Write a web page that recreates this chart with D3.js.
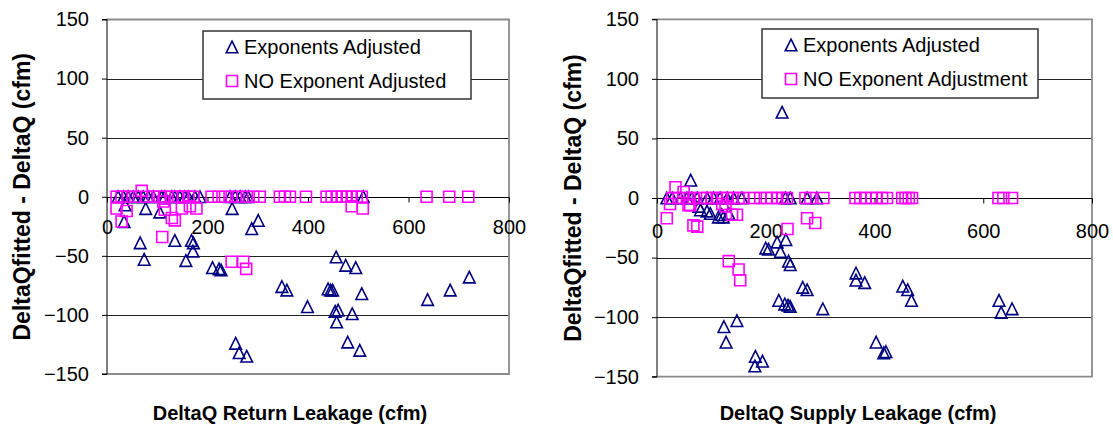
<!DOCTYPE html>
<html lang="en">
<head>
  <meta charset="UTF-8">
  <title>DeltaQ fitted residuals</title>
  <style>
    body {
      margin: 0;
      background: #fff;
    }
    svg text {
      font-family: "Liberation Sans", Arial, sans-serif;
    }
  </style>
</head>
<body>
  <div class="charts"></div>
  <script src="https://cdnjs.cloudflare.com/ajax/libs/d3/7.8.5/d3.min.js"></script>
  <script>
    // tick labels shared by both panels
    const xTicks = [0, 200, 400, 600, 800];
    const yTicks = [150, 100, 50, 0, -50, -100, -150];
    const yGrid = [100, 50, -50, -100];

    // return leakage panel, [DeltaQ leakage, fitted - measured]
    const returnAdjusted = [
      [22, 0], [33, 0], [42, 0], [52, 0], [62, 0], [72, 0], [82, 0], [92, 0], [109, 0], [115, 0],
      [129, 0], [135, 0], [145, 0], [155, 0], [162, 0], [175, 0], [185, 0], [245, 0], [255, 0],
      [265, 0], [275, 0], [281, 0], [510, 0],
      [36, -7], [34, -21], [77, -10], [105, -13], [66, -39], [74, -53], [135, -37], [157, -54],
      [168, -37], [172, -39], [171, -46], [210, -60], [223, -61], [227, -62], [249, -10],
      [288, -27], [301, -20], [256, -124], [263, -132], [278, -135], [348, -76], [358, -79],
      [399, -93], [440, -78], [445, -79], [449, -79], [456, -51], [475, -58], [495, -60],
      [507, -82], [454, -97], [460, -96], [457, -106], [488, -99], [479, -123], [503, -130],
      [638, -87], [683, -79], [721, -68]
    ];
    const returnNotAdjusted = [
      [19, 0], [29, 0], [42, 0], [56, 0], [69, 5], [79, 0], [92, 0], [105, 0], [115, 0], [129, 0],
      [142, 0], [152, 0], [162, 0], [172, 0], [208, 0], [222, 0], [235, 0], [248, 0], [261, 0],
      [278, 0], [291, 0], [304, 0], [344, 0], [354, 0], [364, 0], [396, 0], [437, 0], [447, 0],
      [457, 0], [467, 0], [477, 0], [487, 0], [497, 0], [507, 0], [636, 0], [681, 0], [719, 0],
      [19, -10], [39, -12], [29, -21], [112, -4], [115, -11], [129, -18], [135, -20], [110, -34],
      [149, -10], [165, -8], [178, -10], [248, -55], [271, -55], [277, -61], [487, -8], [509, -10]
    ];

    // supply leakage panel
    const supplyAdjusted = [
      [18, 0], [28, 0], [43, 0], [55, 0], [64, 0], [74, 0], [92, 0], [104, 0], [116, 0], [129, 0],
      [141, 0], [156, 0], [236, 0], [245, 0], [276, 0], [294, 0],
      [230, 72], [62, 15], [77, -7], [80, -10], [92, -11], [98, -13], [113, -16], [122, -16],
      [132, -13], [119, -14], [123, -108], [127, -121], [147, -103], [181, -133], [180, -141],
      [194, -137], [200, -42], [205, -43], [221, -37], [227, -45], [237, -35], [242, -53],
      [245, -56], [224, -86], [235, -89], [241, -90], [245, -91], [268, -75], [276, -77],
      [305, -93], [366, -63], [366, -69], [382, -71], [452, -74], [461, -77], [468, -86],
      [403, -121], [417, -130], [421, -129], [629, -86], [633, -96], [653, -93]
    ];
    const supplyNotAdjusted = [
      [28, 0], [40, 0], [55, 0], [67, 0], [80, 0], [92, 0], [101, 0], [110, 0], [120, 0], [129, 0],
      [138, 0], [150, 0], [159, 0], [178, 0], [190, 0], [202, 0], [211, 0], [221, 0], [230, 0],
      [239, 0], [273, 0], [282, 0], [306, 0], [365, 0], [374, 0], [383, 0], [395, 0], [404, 0],
      [414, 0], [423, 0], [451, 0], [457, 0], [463, 0], [469, 0], [628, 0], [637, 0], [653, 0],
      [18, -17], [24, -5], [34, 9], [49, 5], [58, -6], [61, -6], [67, -23], [74, -24], [120, -5],
      [126, -7], [138, -14], [147, -14], [132, -53], [150, -60], [153, -69], [240, -26],
      [276, -17], [291, -21]
    ];

    const yTitle = 'DeltaQfitted - DeltaQ (cfm)';

    const panels = [
      {
        left: 107, right: 509, top: 19.5, bottom: 374,
        xTitle: 'DeltaQ Return Leakage (cfm)', xTitleX: 290, yTitleX: 22, labelGap: 30,
        legend: { x: 203, y: 31, w: 268, h: 68 },
        legendNames: ['Exponents Adjusted', 'NO Exponent Adjusted'],
        series: [returnAdjusted, returnNotAdjusted]
      },
      {
        left: 657, right: 1092, top: 19.3, bottom: 376.7,
        xTitle: 'DeltaQ Supply Leakage (cfm)', xTitleX: 858, yTitleX: 573, labelGap: 33,
        legend: { x: 762, y: 29, w: 276, h: 69 },
        legendNames: ['Exponents Adjusted', 'NO Exponent Adjustment'],
        series: [supplyAdjusted, supplyNotAdjusted]
      }
    ];

    const colors = ['#000080', '#ff00ff'];

    // Excel style markers: open triangle in a square box, open square
    const triangle = {
      draw(ctx, size) {
        const r = Math.sqrt(size) / 2;
        ctx.moveTo(0, -r);
        ctx.lineTo(r, r);
        ctx.lineTo(-r, r);
        ctx.closePath();
      }
    };
    const square = {
      draw(ctx, size) {
        const r = Math.sqrt(size) / 2;
        ctx.rect(-r, -r, 2 * r, 2 * r);
      }
    };
    const shapes = [
      d3.symbol().type(triangle).size(11.6 * 11.6),
      d3.symbol().type(square).size(11 * 11)
    ];

    const svg = d3.select('.charts')
      .append('svg')
      .attr('width', 1113)
      .attr('height', 428);

    panels.forEach(p => {
      const x = d3.scaleLinear().domain([0, 800]).range([p.left, p.right]);
      const y = d3.scaleLinear().domain([-150, 150]).range([p.bottom, p.top]);
      const g = svg.append('g');

      // gridlines
      g.selectAll('.grid')
        .data(yGrid)
        .join('line')
        .attr('x1', p.left).attr('x2', p.right)
        .attr('y1', d => Math.round(y(d)) + 0.5).attr('y2', d => Math.round(y(d)) + 0.5)
        .attr('stroke', '#222')
        .attr('stroke-width', 1);

      // plot area border (top, right, bottom)
      g.append('path')
        .attr('d', `M${p.left},${p.top}H${p.right}V${p.bottom}H${p.left}`)
        .attr('fill', 'none')
        .attr('stroke', '#8a8a8a')
        .attr('stroke-width', 1.8);

      // y axis
      const yAxis = g.append('g')
        .attr('transform', `translate(${p.left},0)`)
        .call(d3.axisLeft(y).tickValues(yTicks).tickSize(5).tickPadding(13).tickFormat(d3.format('d')));
      yAxis.select('.domain').attr('stroke', '#000').attr('d', `M-5,${y(150)}H0V${y(-150)}H-5`);
      yAxis.selectAll('text')
        .attr('font-size', 20)
        .attr('font-family', '"Liberation Sans", Arial, sans-serif')
        .attr('fill', '#000');

      // x axis sits on zero
      const xAxis = g.append('g')
        .attr('transform', `translate(0,${Math.round(y(0)) + 0.5})`)
        .call(d3.axisBottom(x).tickValues(xTicks).tickSize(5).tickPadding(p.labelGap - 5 - 8).tickFormat(d3.format('d')));
      xAxis.select('.domain').attr('stroke', '#000').attr('d', `M${p.left},0H${p.right}`);
      xAxis.selectAll('text')
        .attr('font-size', 20)
        .attr('font-family', '"Liberation Sans", Arial, sans-serif')
        .attr('fill', '#000');

      // series: triangles first, squares over them
      p.series.forEach((data, i) => {
        g.append('g')
          .selectAll('path')
          .data(data)
          .join('path')
          .attr('transform', d => `translate(${x(d[0])},${y(d[1])})`)
          .attr('d', shapes[i])
          .attr('fill', 'none')
          .attr('stroke', colors[i])
          .attr('stroke-width', 1.6);
      });

      // legend
      const lg = g.append('g').attr('transform', `translate(${p.legend.x},${p.legend.y})`);
      lg.append('rect')
        .attr('width', p.legend.w).attr('height', p.legend.h)
        .attr('fill', '#fff')
        .attr('stroke', '#333')
        .attr('stroke-width', 1.5);
      p.legendNames.forEach((name, i) => {
        const cy = 16 + i * 34;
        lg.append('path')
          .attr('transform', `translate(29,${cy})`)
          .attr('d', shapes[i])
          .attr('fill', 'none')
          .attr('stroke', colors[i])
          .attr('stroke-width', 1.6);
        lg.append('text')
          .attr('x', 41).attr('y', cy)
          .attr('dy', '0.35em')
          .attr('font-size', 20)
          .text(name);
      });

      // axis titles
      g.append('text')
        .attr('x', p.xTitleX).attr('y', 413)
        .attr('dy', '0.35em')
        .attr('text-anchor', 'middle')
        .attr('font-size', 20)
        .attr('font-weight', 'bold')
        .text(p.xTitle);
      g.append('text')
        .attr('transform', `translate(${p.yTitleX},${(p.top + p.bottom) / 2}) rotate(-90)`)
        .attr('dy', '0.35em')
        .attr('text-anchor', 'middle')
        .attr('font-size', 23)
        .attr('font-weight', 'bold')
        .text(yTitle);
    });
  </script>
</body>
</html>
